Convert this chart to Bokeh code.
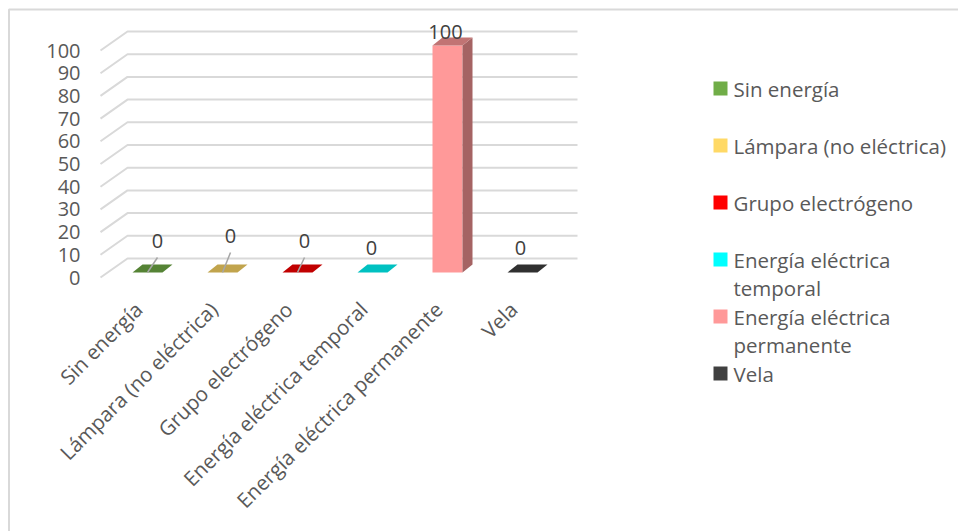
import math
import textwrap
from bokeh.plotting import figure
from bokeh.models import ColumnDataSource, Range1d
from bokeh.core.properties import value
from bokeh.embed import file_html
from bokeh.resources import INLINE

# ---------------- data ----------------
categories = ["Sin energía", "Lámpara (no eléctrica)", "Grupo electrógeno",
              "Energía eléctrica temporal", "Energía eléctrica permanente", "Vela"]
values = [0, 0, 0, 0, 100, 0]
y_ticks = [0, 10, 20, 30, 40, 50, 60, 70, 80, 90, 100]
colors = ["#70AD47", "#FFD966", "#FF0000", "#00FFFF", "#FF9999", "#404040"]

# ---------------- layout / style ----------------
W, H = 958, 531
PX = 75.0          # pixels per category
PY = 2.27          # pixels per value unit
X0PX, Y0PX = 147.0, 277.0   # pixel of category 0 / value 0 (front plane)

def sx(px):
    return (px - X0PX) / PX

def sy(py):
    return (Y0PX - py) / PY

FONT = value("Open Sans")
TXT = "#595959"
GRID = "#d9d9d9"

def shade(hexcol, f):
    h = hexcol.lstrip("#")
    r, g, b = (int(h[i:i + 2], 16) for i in (0, 2, 4))
    return "#%02x%02x%02x" % (int(r * f), int(g * f), int(b * f))

p = figure(width=W, height=H, output_backend="svg", toolbar_location=None,
           x_range=Range1d(sx(0), sx(W)), y_range=Range1d(sy(H), sy(0)),
           x_axis_type=None, y_axis_type=None, min_border=0,
           background_fill_color="white", border_fill_color="white")
p.outline_line_color = None
p.xgrid.visible = False
p.ygrid.visible = False

# outer chart border (left and top edges visible)
p.line(x=[sx(8.5), sx(8.5), sx(W + 5)], y=[sy(H + 5), sy(9), sy(9)],
       line_color=GRID, line_width=2)

# ---------------- 3D gridlines ----------------
depth_dx = 27.0 / PX
depth_dy = 19.0 / PY
wall_left = sx(100)
wall_right = sx(577)
gx, gy = [], []
for t in y_ticks:
    gx.append([wall_left, wall_left + depth_dx, wall_right])
    gy.append([t, t + depth_dy, t + depth_dy])
p.multi_line(xs=gx, ys=gy, line_color=GRID, line_width=2)

# y tick labels
p.text(x=[sx(80)] * len(y_ticks), y=y_ticks, text=[str(t) for t in y_ticks],
       text_align="right", text_baseline="middle", text_font=FONT,
       text_font_size="20px", text_color=TXT)

# ---------------- 3D bars ----------------
hw = 15.0 / PX               # half front width
base = 5.0 / PY              # bars sit slightly inside the floor
bdx = 10.0 / PX              # bar depth
bdy = 8.0 / PY
idx = list(range(len(categories)))

front = ColumnDataSource(dict(
    left=[i - hw for i in idx], right=[i + hw for i in idx],
    bottom=[base] * len(idx), top=[base + v for v in values],
    color=colors))
p.quad(left="left", right="right", bottom="bottom", top="top",
       fill_color="color", line_color=None, source=front)

side_xs, side_ys, top_xs, top_ys = [], [], [], []
for i, v in zip(idx, values):
    t = base + v
    side_xs.append([i + hw, i + hw + bdx, i + hw + bdx, i + hw])
    side_ys.append([base, base + bdy, t + bdy, t])
    top_xs.append([i - hw, i - hw + bdx, i + hw + bdx, i + hw])
    top_ys.append([t, t + bdy, t + bdy, t])
p.patches(xs=side_xs, ys=side_ys, fill_color=[shade(c, 0.65) for c in colors],
          line_color=None)
p.patches(xs=top_xs, ys=top_ys, fill_color=[shade(c, 0.76) for c in colors],
          line_color=None)

# ---------------- data labels ----------------
lab_dx = [10, 8, 7, -1, -2, -2]          # pixel offsets of moved labels
lab_dy = [-32, -37, -32, -25, -14, -25]
leader = [True, True, True, False, False, False]
lx = [i + dx / PX for i, dx in zip(idx, lab_dx)]
ly = [base + v - dy / PY for v, dy in zip(values, lab_dy)]
for i, v, show, x, y in zip(idx, values, leader, lx, ly):
    if show:
        p.line(x=[i, x], y=[base + v, y - 17.0 / PY], line_color="#a6a6a6",
               line_width=1.5)
p.text(x=lx, y=ly, text=[str(v) for v in values], text_align="center",
       text_baseline="middle", text_font=FONT, text_font_size="20px",
       text_color="#404040")

# ---------------- category labels (rotated) ----------------
p.text(x=[i - 9.0 / PX for i in idx], y=[sy(305)] * len(idx), text=categories,
       angle=math.pi / 4, text_align="right", text_baseline="middle",
       text_font=FONT, text_font_size="20.5px", text_color=TXT)

# ---------------- legend ----------------
leg_x = sx(720)
txt_x = sx(733)
leg_top = 88.0
leg_step = 57.0
line_h = 28.0
sq_y, tx, ty, tt = [], [], [], []
for k, name in enumerate(categories):
    y0 = leg_top + leg_step * k
    sq_y.append(sy(y0))
    for j, ln in enumerate(textwrap.wrap(name, 22)):
        tx.append(txt_x)
        ty.append(sy(y0 + j * line_h))
        tt.append(ln)
p.scatter(x=[leg_x] * len(categories), y=sq_y, marker="square", size=14,
          fill_color=colors, line_color=None)
p.text(x=tx, y=ty, text=tt, text_align="left", text_baseline="middle",
       text_font=FONT, text_font_size="20.5px", text_color=TXT)

open("out.html", "w").write(file_html(p, INLINE))
